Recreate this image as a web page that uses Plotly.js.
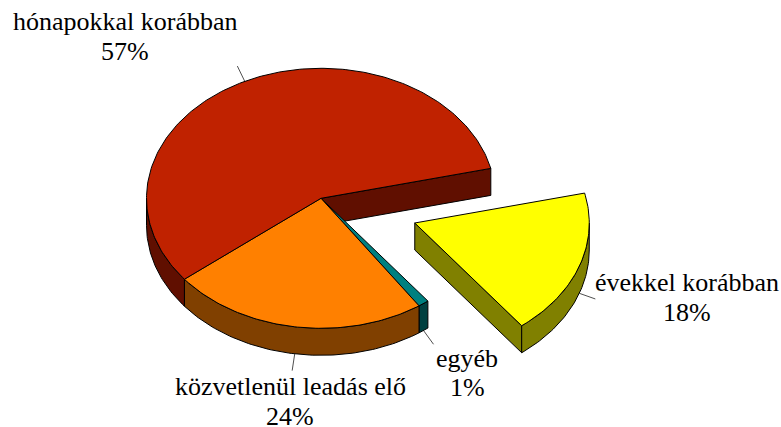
<!DOCTYPE html>
<html>
<head>
<meta charset="utf-8">
<script src="https://cdn.plot.ly/plotly-3.0.1.min.js"></script>
<style>html,body{margin:0;padding:0;background:#fff;overflow:hidden}</style>
</head>
<body>
<div id="chart" style="width:781px;height:427px"></div>
<script>
// Data, clockwise from the start angle
var categories = ["évekkel korábban", "egyéb", "közvetlenül leadás elő", "hónapokkal korábban"];
var values = [18.2, 1, 23.8, 57];
var percentLabels = ["18%", "1%", "24%", "57%"];
var explode = [0.57, 0, 0, 0];
var topColors = ["#FFFF00", "#008080", "#FF8000", "#C02200"];
var wallColors = ["#808000", "#004040", "#804000", "#600F00"];
// label centres in page pixels
var labelX = [687, 467, 290, 125];
var nameY = [282.5, 358.5, 386.5, 21.5];
var percentY = [312.5, 387.5, 416.5, 51.5];

// Projection of the tilted pie
var cx = 321, cy = 198.3, rx = 174.5, ry = 130, depth = 27, startAngle = 13.3;
var rad = Math.PI / 180;
var total = values.reduce(function (a, b) { return a + b; }, 0);

function pt(angle, ox, oy, dz) {
  return [cx + ox + rx * Math.cos(angle * rad), cy + oy - ry * Math.sin(angle * rad) + dz];
}
function arc(a0, a1, ox, oy, dz) {
  var out = [], n = Math.max(2, Math.ceil(Math.abs(a1 - a0)));
  for (var i = 0; i <= n; i++) out.push(pt(a0 + (a1 - a0) * i / n, ox, oy, dz));
  return out;
}
function poly(points, fill, name) {
  var xs = points.map(function (p) { return p[0]; });
  var ys = points.map(function (p) { return p[1]; });
  xs.push(xs[0]); ys.push(ys[0]);
  return { type: "scatter", mode: "lines", x: xs, y: ys, fill: "toself", fillcolor: fill,
           line: { color: "#000", width: 1, shape: "linear" }, name: name, hoverinfo: "name", showlegend: false };
}
function segment(a, b) {
  return { type: "scatter", mode: "lines", x: [a[0], b[0]], y: [a[1], b[1]],
           line: { color: "#222", width: 0.8 }, hoverinfo: "skip", showlegend: false };
}

var slices = [], angle = startAngle;
values.forEach(function (v, i) {
  var sweep = v / total * 360, a0 = angle, a1 = angle - sweep, mid = (a0 + a1) / 2;
  slices.push({ a0: a0, a1: a1, mid: mid,
    ox: explode[i] * rx * Math.cos(mid * rad),
    oy: -explode[i] * ry * Math.sin(mid * rad) });
  angle = a1;
});

var walls = [], tops = [], leaders = [];
slices.forEach(function (s, i) {
  var c = [cx + s.ox, cy + s.oy];
  // outer wall: only the part of the arc on the near (lower) half
  var low0 = Math.min(s.a0, 0), low1 = Math.max(s.a1, -180);
  if (low0 > low1) {
    walls.push(poly(arc(low0, low1, s.ox, s.oy, 0).concat(arc(low1, low0, s.ox, s.oy, depth)), wallColors[i], categories[i]));
  }
  tops.push(poly([c].concat(arc(s.a0, s.a1, s.ox, s.oy, 0)), topColors[i], categories[i]));
  // leader line from the outer edge at mid-angle
  var onLower = Math.sin(s.mid * rad) < 0;
  var st = pt(s.mid, s.ox, s.oy, onLower ? depth : 0);
  var len = 17;
  leaders.push(segment(st, [st[0] + len * Math.cos(s.mid * rad), st[1] - len * Math.sin(s.mid * rad)]));
});

// Radial cut walls that face the viewer
var red = slices[3], yel = slices[0];
var redCut = poly([[cx, cy], pt(red.a1, 0, 0, 0), pt(red.a1, 0, 0, depth), [cx, cy + depth]], wallColors[3], categories[3]);
var yelCut = poly([[cx + yel.ox, cy + yel.oy], pt(yel.a1, yel.ox, yel.oy, 0), pt(yel.a1, yel.ox, yel.oy, depth), [cx + yel.ox, cy + yel.oy + depth]], wallColors[0], categories[0]);

function textAnn(text, x, y) {
  return { x: x, y: y, xref: "x", yref: "y", xanchor: "center", yanchor: "middle",
           text: text, showarrow: false, align: "center",
           font: { family: "Liberation Serif, Times New Roman, serif", size: 26, color: "#000" } };
}
var annotations = [];
categories.forEach(function (c, i) {
  annotations.push(textAnn(c, labelX[i], nameY[i]));
  annotations.push(textAnn(percentLabels[i], labelX[i], percentY[i]));
});

var data = leaders.concat([redCut, yelCut], walls, tops);
var layout = {
  width: 781, height: 427, margin: { l: 0, r: 0, t: 0, b: 0 },
  paper_bgcolor: "#fff", plot_bgcolor: "#fff", showlegend: false,
  xaxis: { range: [0, 781], visible: false, fixedrange: true },
  yaxis: { range: [427, 0], visible: false, fixedrange: true },
  annotations: annotations
};
Plotly.newPlot("chart", data, layout, { staticPlot: true, displayModeBar: false });
</script>
</body>
</html>
